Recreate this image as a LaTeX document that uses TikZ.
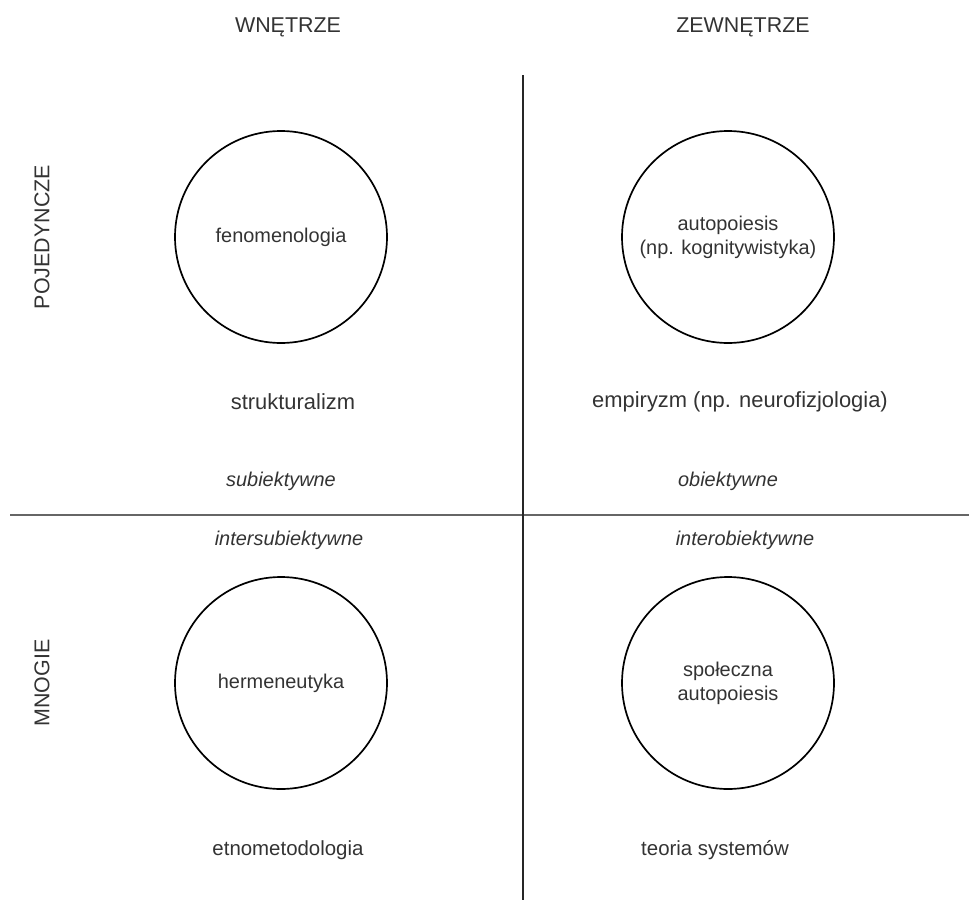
\documentclass[tikz,border=0pt]{standalone}
\usepackage{fontspec}
\setmainfont{Liberation Sans}
\begin{document}
\begin{tikzpicture}[x=1bp,y=-1bp,
  lbl/.style={text=black!80, font=\fontsize{20}{24}\selectfont, align=center, inner sep=0pt},
  big/.style={lbl, font=\fontsize{21.5}{25}\selectfont},
  ital/.style={lbl, font=\fontsize{20}{24}\selectfont\itshape},
  ring/.style={circle, draw=black, line width=1.7bp, minimum size=212bp, inner sep=0pt, lbl}
]
\useasboundingbox (0,0) rectangle (969,900);
% headers
\node[big] (h1) at (288,27) {WNĘTRZE};
\node[big] (h2) at (743,27) {ZEWNĘTRZE};
\node[big, rotate=90] (v1) at (42,237) {POJEDYNCZE};
\node[big, rotate=90] (v2) at (42,683) {MNOGIE};
% axes
\coordinate (vt) at (523,75);
\coordinate (vb) at (523,900);
\coordinate (hl) at (10,515);
\coordinate (hr) at (969,515);
\draw[black!60, line width=2bp] (hl) -- (hr);
\draw[black!85, line width=1.4bp] (vt) -- (vb);
% circles
\node[ring] (c1) at (281,237) {fenomenologia};
\node[ring] (c2) at (728,237) {autopoiesis\\(np. kognitywistyka)};
\node[ring] (c3) at (281,683) {hermeneutyka};
\node[ring] (c4) at (728,683) {społeczna\\autopoiesis};
% labels
\node[lbl, font=\fontsize{22}{26}\selectfont] (s1) at (293,402) {strukturalizm};
\node[lbl, font=\fontsize{22}{26}\selectfont] (s2) at (740,402) {empiryzm (np. neurofizjologia)};
\node[ital] (i1) at (281,481) {subiektywne};
\node[ital] (i2) at (728,481) {obiektywne};
\node[ital] (i3) at (289,540) {intersubiektywne};
\node[ital] (i4) at (745,540) {interobiektywne};
\node[lbl, font=\fontsize{20.5}{24}\selectfont] (b1) at (288,850) {etnometodologia};
\node[lbl, font=\fontsize{20.5}{24}\selectfont] (b2) at (715,850) {teoria systemów};
\end{tikzpicture}
\end{document}
